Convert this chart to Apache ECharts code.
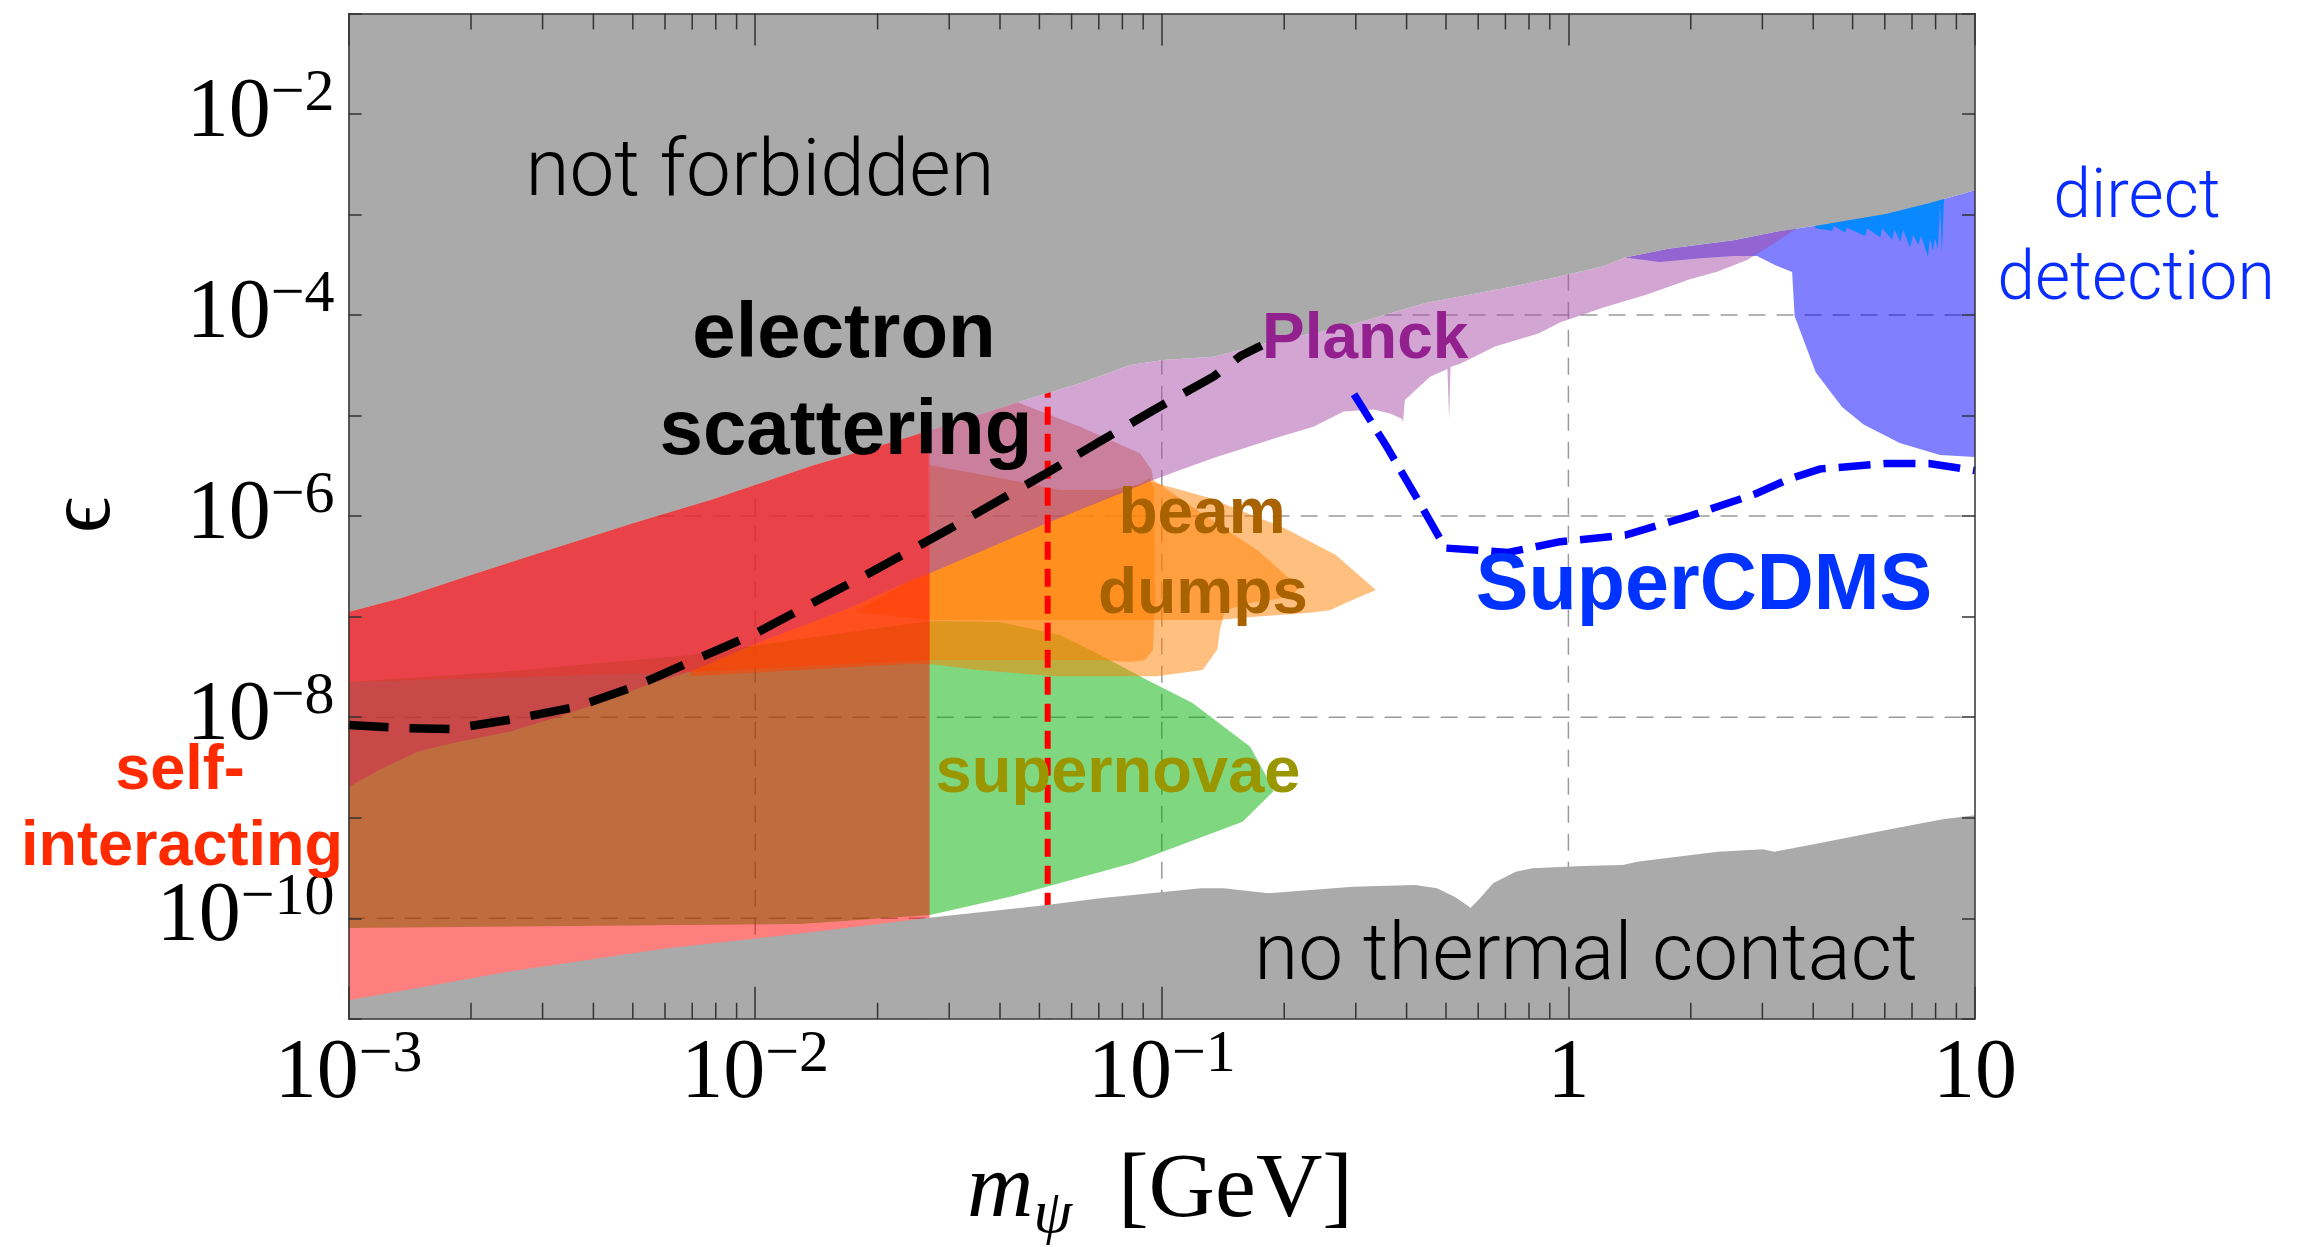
<!DOCTYPE html>
<html>
<head>
<meta charset="utf-8">
<script src="https://cdn.jsdelivr.net/npm/echarts@6/dist/echarts.min.js"></script>
<style>
  html, body { margin: 0; padding: 0; background: #ffffff; }
  #chart { width: 2316px; height: 1247px; }
</style>
</head>
<body>
<div id="chart"></div>
<script>
// ---- axis ranges (mass m_psi in GeV, kinetic mixing epsilon) ----
const X_MIN = 1e-3, X_MAX = 10;
const Y_MIN = 1e-11, Y_MAX = 1e-1;
const GRID_MASSES = [1e-2, 1e-1, 1];
const GRID_EPS = [1e-10, 1e-8, 1e-6, 1e-4, 1e-2];
const MINOR_DIGITS = [2, 3, 4, 5, 6, 7, 8, 9];
const DECADES = [1e-3, 1e-2, 1e-1, 1];

// ---- region boundaries, [mass, epsilon] ----
// lower edge of the "not forbidden" region
const notForbiddenEdge = [
  [0.001, 1.11e-7], [0.00135, 1.53e-7], [0.00202, 2.62e-7], [0.00322, 4.82e-7],
  [0.00503, 8.54e-7], [0.00784, 1.46e-6], [0.0138, 3.17e-6], [0.0238, 6.1e-6],
  [0.0432, 1.32e-5], [0.063, 2.09e-5], [0.0836, 3.18e-5], [0.101, 3.57e-5],
  [0.134, 3.85e-5], [0.195, 5.66e-5], [0.274, 7.43e-5], [0.446, 1.32e-4],
  [0.746, 1.95e-4], [0.955, 2.43e-4], [1.22, 3.06e-4], [1.38, 3.73e-4],
  [1.76, 4.55e-4], [2.55, 5.55e-4], [3.26, 6.76e-4], [4.17, 7.86e-4],
  [6.03, 1.01e-3], [7.7, 1.29e-3], [10, 1.74e-3]
];
// upper edge of the "no thermal contact" region
const noThermalEdge = [
  [0.001, 1.53e-11], [0.00249, 2.96e-11], [0.00593, 4.98e-11], [0.0129, 7.06e-11],
  [0.0268, 1.01e-10], [0.0516, 1.35e-10], [0.0705, 1.58e-10], [0.125, 1.99e-10],
  [0.142, 1.99e-10], [0.183, 1.77e-10], [0.295, 2.06e-10], [0.419, 2.14e-10],
  [0.475, 1.99e-10], [0.526, 1.63e-10], [0.575, 1.27e-10], [0.607, 1.59e-10],
  [0.653, 2.23e-10], [0.742, 2.9e-10], [0.816, 3.14e-10], [1.09, 3.31e-10],
  [1.36, 3.39e-10], [1.49, 3.66e-10], [2.33, 4.6e-10], [3.01, 4.85e-10],
  [3.21, 4.6e-10], [4.13, 5.57e-10], [6.05, 7.55e-10], [8.33, 9.64e-10], [10, 1.06e-9]
];
// Planck (CMB) lower edge; upper edge follows notForbiddenEdge
const planckLower = [
  [0.001, 2.02e-9], [0.00122, 3.16e-9], [0.00149, 4.57e-9], [0.00183, 5.6e-9],
  [0.00248, 7.16e-9], [0.00336, 1.04e-8], [0.0041, 1.38e-8], [0.00556, 2.16e-8],
  [0.00695, 2.87e-8], [0.0102, 5.53e-8], [0.0169, 1.2e-7], [0.0238, 2.22e-7],
  [0.0269, 2.7e-7], [0.0521, 8.47e-7], [0.0953, 2.29e-6], [0.111, 2.87e-6],
  [0.134, 3.79e-6], [0.195, 6.17e-6], [0.236, 7.75e-6], [0.28, 1.1e-5],
  [0.332, 1.15e-5], [0.366, 1.04e-5], [0.39, 9.25e-6], [0.392, 8.43e-6],
  [0.396, 1.43e-5], [0.457, 2.43e-5], [0.504, 2.9e-5], [0.509, 9.04e-6],
  [0.513, 3.04e-5], [0.542, 3.27e-5], [0.66, 4.86e-5], [0.844, 6.55e-5],
  [0.953, 8.41e-5], [1.22, 1.19e-4], [1.56, 1.6e-4], [1.99, 2.27e-4],
  [2.32, 2.7e-4], [2.75, 3.52e-4], [3.13, 4.86e-4], [3.72, 7.67e-4]
];
// direct detection lower edge (right to left); upper edge follows notForbiddenEdge
const directLower = [
  [10, 3.87e-6], [8.2, 4.05e-6], [6.53, 5.34e-6], [5.32, 8.15e-6], [4.71, 1.22e-5],
  [4.06, 2.68e-5], [3.6, 9.77e-5], [3.55, 2.68e-4], [3.22, 3.15e-4], [2.91, 3.87e-4],
  [2.54, 3.87e-4], [2.11, 3.66e-4], [1.68, 3.37e-4], [1.38, 3.73e-4]
];
// individual direct-detection limits near the top
const directSpikes = [
  [4.05, 7.3e-4], [4.45, 6.9e-4], [4.5, 7.7e-4], [4.79, 6.6e-4], [4.84, 7.4e-4],
  [5.37, 6.1e-4], [5.43, 7.3e-4], [5.85, 5.9e-4], [5.91, 7.3e-4], [6.26, 5.6e-4],
  [6.33, 7.1e-4], [6.55, 5.4e-4], [6.66, 7.0e-4], [6.92, 4.7e-4], [7.04, 6.3e-4],
  [7.25, 5.0e-4], [7.37, 6.1e-4], [7.66, 3.8e-4], [7.75, 5.8e-4], [7.88, 4.3e-4],
  [7.97, 5.8e-4], [8.11, 4.5e-4], [8.2, 1.3e-3], [8.29, 4.2e-4], [8.39, 1.39e-3],
  [8.39, 1.7e-3], [4.05, 1.0e-3]
];
// supernova cooling
const supernovae = [
  [0.001, 2.24e-8], [0.00236, 2.82e-8], [0.00695, 4.15e-8], [0.0171, 7.03e-8],
  [0.0269, 9.06e-8], [0.04, 8.85e-8], [0.0562, 6.58e-8], [0.0705, 4.15e-8],
  [0.0918, 2.35e-8], [0.119, 1.38e-8], [0.165, 5.09e-9], [0.181, 2.56e-9],
  [0.188, 1.82e-9], [0.158, 9.12e-10], [0.0849, 3.55e-10], [0.0424, 1.64e-10],
  [0.0269, 1.08e-10], [0.0129, 8.77e-11], [0.001, 8.0e-11]
];
// beam dump experiments
const beamDumpA = [
  [0.0176, 1.11e-7], [0.0238, 2.22e-7], [0.0268, 2.7e-7], [0.0268, 3.22e-6],
  [0.04, 2.39e-6], [0.0562, 1.82e-6], [0.0746, 1.82e-6], [0.0946, 2.18e-6],
  [0.13, 1.53e-6], [0.2, 7.62e-7], [0.268, 4.1e-7], [0.336, 1.84e-7],
  [0.295, 1.47e-7], [0.259, 1.16e-7], [0.228, 1.09e-7], [0.165, 9.9e-8],
  [0.139, 9.27e-8], [0.0269, 9.27e-8], [0.0238, 9.8e-8]
];
const beamDumpB = [
  [0.00695, 2.88e-8], [0.0102, 5.53e-8], [0.0169, 1.2e-7], [0.0238, 2.22e-7],
  [0.0268, 2.7e-7], [0.0521, 8.47e-7], [0.0953, 2.29e-6], [0.137, 8.34e-7],
  [0.173, 4.5e-7], [0.2, 2.66e-7], [0.218, 1.93e-7], [0.206, 1.57e-7],
  [0.165, 1.37e-7], [0.143, 1.16e-7], [0.139, 7.36e-8], [0.137, 4.71e-8],
  [0.126, 2.94e-8], [0.0972, 2.55e-8], [0.0546, 2.55e-8], [0.0354, 2.94e-8],
  [0.0268, 3.38e-8], [0.0238, 3.38e-8], [0.0129, 2.94e-8], [0.00695, 2.56e-8]
];
const beamDumpC = [
  [0.001, 1.84e-7], [0.00415, 8.15e-7], [0.0129, 3.61e-6], [0.0266, 8.05e-6],
  [0.0268, 2.7e-7], [0.0521, 8.47e-7], [0.0883, 2.09e-6], [0.0935, 2.39e-6],
  [0.0957, 1.82e-6], [0.0962, 1.47e-7], [0.0951, 4.66e-8], [0.0909, 3.71e-8],
  [0.0835, 3.54e-8], [0.0705, 3.71e-8], [0.0269, 3.71e-8], [0.0238, 3.62e-8],
  [0.00695, 2.82e-8], [0.001, 2.24e-8]
];
// self-interaction limits
const selfInteractingBox = [[0.001, 1e-11], [0.02685, 1e-11], [0.02685, 1e-1], [0.001, 1e-1]];
const selfInteractingTail = [
  [0.0268, 1.0e-5], [0.0432, 1.4e-5], [0.063, 7.74e-6], [0.0883, 4.21e-6],
  [0.0944, 2.88e-6], [0.0953, 2.29e-6], [0.0521, 8.47e-7], [0.0268, 2.7e-7]
];
// reference curves
const electronScattering = [
  [0.001, 8.36e-9], [0.00134, 7.8e-9], [0.00178, 7.62e-9], [0.00253, 9.52e-9],
  [0.00364, 1.27e-8], [0.00503, 2.0e-8], [0.00723, 3.83e-8], [0.01, 6.78e-8],
  [0.0138, 1.36e-7], [0.0195, 2.84e-7], [0.0307, 7.85e-7], [0.0511, 2.56e-6],
  [0.0692, 5.3e-6], [0.0953, 1.13e-5], [0.134, 2.44e-5], [0.156, 3.91e-5], [0.176, 4.98e-5]
];
const superCDMS = [
  [0.297, 1.63e-5], [0.357, 4.95e-6], [0.424, 1.51e-6], [0.498, 4.81e-7],
  [0.711, 4.35e-7], [0.955, 5.57e-7], [1.38, 6.47e-7], [2.0, 1.01e-6],
  [2.88, 1.66e-6], [3.51, 2.36e-6], [4.17, 2.95e-6], [6.03, 3.33e-6],
  [7.7, 3.33e-6], [10, 2.84e-6]
];
const redLineMass = 0.0524;
const redLine = [[redLineMass, Y_MIN], [redLineMass, Y_MAX]];

// ---- helpers ----
function polygonSeries(name, pts, fill, z) {
  return {
    type: 'custom', name: name, coordinateSystem: 'cartesian2d', clip: true, z: z,
    silent: true, animation: false,
    data: pts,
    renderItem: function (params, api) {
      if (params.dataIndex !== 0) return null;
      const points = pts.map(function (p) { return api.coord(p); });
      return { type: 'polygon', shape: { points: points }, style: { fill: fill, stroke: null } };
    }
  };
}
function lineSeries(name, pts, color, width, dash, z) {
  return {
    type: 'line', name: name, data: pts, z: z, silent: true, animation: false,
    symbol: 'none', showSymbol: false, clip: true,
    lineStyle: { color: color, width: width, type: dash, cap: 'butt' }
  };
}
function powerLabel(v) {
  const e = Math.round(Math.log10(v));
  if (e === 0) return '{b|1}';
  if (e === 1) return '{b|10}';
  return '{b|10}{s|\u2212' + (-e) + '}';
}
const SERIF = 'Liberation Serif, Times New Roman, serif';
const labelRich = {
  b: { fontFamily: SERIF, fontSize: 84, lineHeight: 100, color: '#000' },
  s: { fontFamily: SERIF, fontSize: 60, lineHeight: 60, verticalAlign: 'top', color: '#000' }
};
const FRAME = { color: '#333', width: 1.5 };

const gray = '#aaaaaa';
const orange = 'rgba(255,128,0,0.5)';
const series = [
  // dashed reference grid
  {
    type: 'custom', name: 'grid', coordinateSystem: 'cartesian2d', z: 1, silent: true,
    animation: false, data: [[X_MIN, Y_MIN]],
    renderItem: function (params, api) {
      const children = [];
      GRID_MASSES.forEach(function (m) {
        const a = api.coord([m, Y_MIN]), b = api.coord([m, Y_MAX]);
        children.push({ type: 'line', shape: { x1: a[0], y1: a[1], x2: b[0], y2: b[1] },
          style: { stroke: '#9a9a9a', lineWidth: 1.5, lineDash: [17, 11] } });
      });
      GRID_EPS.forEach(function (e) {
        const a = api.coord([X_MIN, e]), b = api.coord([X_MAX, e]);
        children.push({ type: 'line', shape: { x1: a[0], y1: a[1], x2: b[0], y2: b[1] },
          style: { stroke: '#9a9a9a', lineWidth: 1.5, lineDash: [17, 11] } });
      });
      return { type: 'group', children: children };
    }
  },
  polygonSeries('supernovae', supernovae, 'rgba(0,178,0,0.5)', 2),
  polygonSeries('beam dump A', beamDumpA, orange, 3),
  polygonSeries('beam dump B', beamDumpB, orange, 3),
  polygonSeries('beam dump C', beamDumpC, orange, 3),
  polygonSeries('direct detection', notForbiddenEdge.filter(function (p) { return p[0] >= 1.38; }).concat(directLower), 'rgba(0,0,255,0.5)', 4),
  polygonSeries('direct detection limits', directSpikes, '#0a88ff', 4),
  polygonSeries('Planck', planckLower.concat(notForbiddenEdge.filter(function (p) { return p[0] < 3.72; }).reverse()), 'rgba(166,76,166,0.5)', 5),
  polygonSeries('self-interacting tail', selfInteractingTail, 'rgba(190,60,60,0.35)', 6),
  polygonSeries('self-interacting', selfInteractingBox, 'rgba(255,0,0,0.5)', 7),
  lineSeries('mass line', redLine, '#ff0000', 6, [18, 9], 8),
  polygonSeries('not forbidden', notForbiddenEdge.concat([[X_MAX, Y_MAX], [X_MIN, Y_MAX]]), gray, 10),
  polygonSeries('no thermal contact', noThermalEdge.concat([[X_MAX, Y_MIN], [X_MIN, Y_MIN]]), gray, 10),
  lineSeries('electron scattering', electronScattering, '#000000', 8.5, [40, 21], 11),
  lineSeries('SuperCDMS', superCDMS, '#0000ff', 7.5, [32, 13], 11),
  // minor logarithmic ticks on top and bottom edges
  {
    type: 'custom', name: 'minor ticks', coordinateSystem: 'cartesian2d', z: 12, silent: true,
    animation: false, data: [[X_MIN, Y_MIN]],
    renderItem: function (params, api) {
      const children = [];
      DECADES.forEach(function (d) {
        MINOR_DIGITS.forEach(function (k) {
          const lo = api.coord([k * d, Y_MIN]), hi = api.coord([k * d, Y_MAX]);
          children.push({ type: 'line', shape: { x1: lo[0], y1: lo[1], x2: lo[0], y2: lo[1] - 16 }, style: { stroke: '#333', lineWidth: 1.5 } });
          children.push({ type: 'line', shape: { x1: hi[0], y1: hi[1], x2: hi[0], y2: hi[1] + 16 }, style: { stroke: '#333', lineWidth: 1.5 } });
        });
      });
      return { type: 'group', children: children };
    }
  }
];

function textEl(text, x, y, font, fill, align) {
  return { type: 'text', x: x, y: y, z: 30, silent: true,
    style: { text: text, font: font, fill: fill, align: align || 'center', verticalAlign: 'middle',
      textAlign: align || 'center', textVerticalAlign: 'middle' } };
}
const LIGHT = '300 80px Roboto, "Open Sans", sans-serif';
const BOLD = function (size) { return 'bold ' + size + 'px "Liberation Sans", Arial, sans-serif'; };

const option = {
  animation: false,
  backgroundColor: '#ffffff',
  grid: { left: 348.6, right: 341, top: 13.4, bottom: 228.2, containLabel: false },
  xAxis: [
    {
      type: 'log', logBase: 10, min: X_MIN, max: X_MAX, interval: 1, position: 'bottom', z: 20,
      axisLine: { show: true, onZero: false, lineStyle: FRAME },
      axisTick: { show: true, inside: true, length: 32, lineStyle: FRAME },
      minorTick: { show: false }, splitLine: { show: false },
      axisLabel: { show: true, margin: 6, showMinLabel: true, showMaxLabel: true,
        formatter: powerLabel, rich: labelRich }
    },
    {
      type: 'log', logBase: 10, min: X_MIN, max: X_MAX, interval: 1, position: 'top', z: 20,
      axisLine: { show: true, onZero: false, lineStyle: FRAME },
      axisTick: { show: true, inside: true, length: 32, lineStyle: FRAME },
      minorTick: { show: false }, splitLine: { show: false }, axisLabel: { show: false }
    }
  ],
  yAxis: [
    {
      type: 'log', logBase: 10, min: Y_MIN, max: Y_MAX, interval: 1, position: 'left', z: 20,
      axisLine: { show: true, onZero: false, lineStyle: FRAME },
      axisTick: { show: true, inside: true, length: 13, lineStyle: FRAME },
      minorTick: { show: false }, splitLine: { show: false },
      axisLabel: { show: true, margin: 14, showMinLabel: true, showMaxLabel: true,
        formatter: function (v) {
          const e = Math.round(Math.log10(v));
          return (e % 2 === 0) ? powerLabel(v) : '';
        }, rich: labelRich }
    },
    {
      type: 'log', logBase: 10, min: Y_MIN, max: Y_MAX, interval: 1, position: 'right', z: 20,
      axisLine: { show: true, onZero: false, lineStyle: FRAME },
      axisTick: { show: true, inside: true, length: 13, lineStyle: FRAME },
      minorTick: { show: false }, splitLine: { show: false }, axisLabel: { show: false }
    }
  ],
  series: series,
  graphic: [
    textEl('not forbidden', 760, 175, LIGHT, '#000'),
    textEl('no thermal contact', 1586, 959, LIGHT, '#000'),
    textEl('electron', 844, 335, BOLD(78), '#000'),
    textEl('scattering', 846, 432, BOLD(78), '#000'),
    textEl('Planck', 1262, 340, BOLD(64), '#93208f', 'left'),
    textEl('beam', 1202, 515, BOLD(64), '#a86200'),
    textEl('dumps', 1203, 595, BOLD(64), '#a86200'),
    textEl('supernovae', 1118, 774, BOLD(65), '#9a9600'),
    textEl('SuperCDMS', 1704, 587, BOLD(79), '#0033ff'),
    textEl('direct', 2137, 200, '300 68px Roboto, "Open Sans", sans-serif', '#0a2dff'),
    textEl('detection', 2136, 282, '300 68px Roboto, "Open Sans", sans-serif', '#0a2dff'),
    textEl('self-', 180, 772, BOLD(63), '#ff2a00'),
    textEl('interacting', 182, 848, BOLD(63), '#ff2a00'),
    {
      type: 'text', x: 85, y: 515, rotation: Math.PI / 2, z: 30, silent: true,
      style: { text: '\u03f5', font: '90px "Liberation Serif", "DejaVu Serif", serif', fill: '#000',
        align: 'center', verticalAlign: 'middle', textAlign: 'center', textVerticalAlign: 'middle' }
    },
    {
      type: 'text', x: 1160, y: 1192, z: 30, silent: true,
      style: {
        text: '{m|m}{p|\u03c8}{g|  [GeV]}', fill: '#000',
        align: 'center', verticalAlign: 'middle', textAlign: 'center', textVerticalAlign: 'middle',
        rich: {
          m: { font: 'italic 92px "Liberation Serif", serif', lineHeight: 110 },
          p: { font: 'italic 62px "Liberation Serif", serif', lineHeight: 76, verticalAlign: 'bottom' },
          g: { font: '92px "Liberation Serif", serif', lineHeight: 110 }
        }
      }
    }
  ]
};

const chart = echarts.init(document.getElementById('chart'), null, { renderer: 'canvas' });
chart.setOption(option);
</script>
</body>
</html>
